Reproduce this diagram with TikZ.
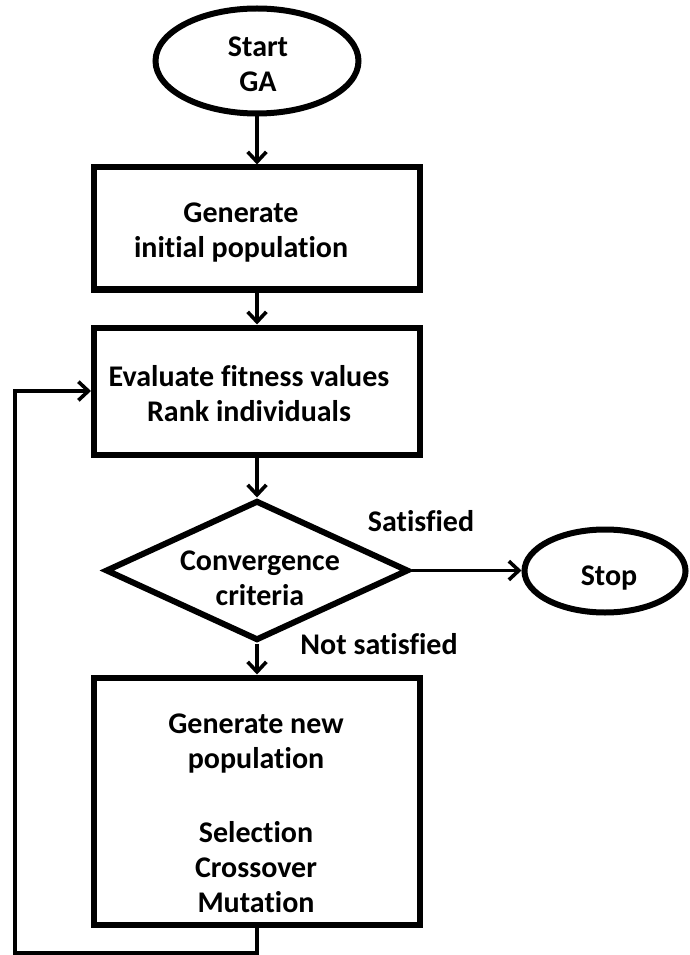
\documentclass[tikz,border=0pt]{standalone}
\usepackage{fontspec}
\setmainfont{Carlito}[Ligatures={NoCommon}]
\usetikzlibrary{shapes.geometric,arrows.meta}
\def\pu{0.75pt}
\begin{document}
\begin{tikzpicture}[x=0.75pt,y=-0.75pt,
  every node/.style={font=\fontsize{22.5}{26.25}\selectfont\bfseries},
  shapeline/.style={draw=black, line width=6*\pu},
  boxnode/.style={shapeline, rectangle, minimum width=326*\pu, inner sep=0},
  ovalnode/.style={shapeline, ellipse, inner sep=0},
  decide/.style={shapeline, diamond, inner sep=0, minimum width=303*\pu, minimum height=140*\pu},
  txt/.style={align=center, inner sep=0},
  conn/.style={line width=3.6*\pu, -{Straight Barb[length=7.5pt, width=14pt]}}]
\useasboundingbox (0,0) rectangle (689,955);
\fill[white] (0,0) rectangle (689,955);

% shapes of the flow
\node[ovalnode, minimum width=203*\pu, minimum height=105*\pu] (start) at (257,61) {};
\node[boxnode, minimum height=122*\pu] (b1) at (257,228.5) {};
\node[boxnode, minimum height=127*\pu] (b2) at (257,391) {};
\node[decide] (dec) at (257,570.5) {};
\node[ovalnode, minimum width=161*\pu, minimum height=83*\pu] (stop) at (605,571) {};
\node[boxnode, minimum height=247*\pu] (b3) at (257,801) {};

% texts
\node[txt] (tstart) at (258,64.5) {Start\\GA};
\node[txt] (t1) at (241,233) {Generate\\initial population};
\node[txt] (t2) at (249,394) {Evaluate fitness values\\Rank individuals};
\node[txt] (tdec) at (260,578.5) {Convergence\\criteria};
\node[txt] (tstop) at (609,578) {Stop};
\node[txt] (t3) at (256,813) {Generate new\\population\\[29pt]Selection\\Crossover\\Mutation};
\node[txt] (tsat) at (421,521) {Satisfied};
\node[txt] (tnot) at (379,644) {Not satisfied};

% connectors
\draw[conn] (start.south) -- (b1.north);
\draw[conn] (b1.south) -- (b2.north);
\draw[conn] (b2.south) -- (dec.north);
\draw[conn] (dec.south) -- (b3.north);
\draw[conn] (dec.east) -- (dec.east -| stop.west);

% feedback loop
\coordinate (loopb) at (15,953);
\draw[conn] (b3.south) |- (loopb) |- (b2.west);
\end{tikzpicture}
\end{document}
